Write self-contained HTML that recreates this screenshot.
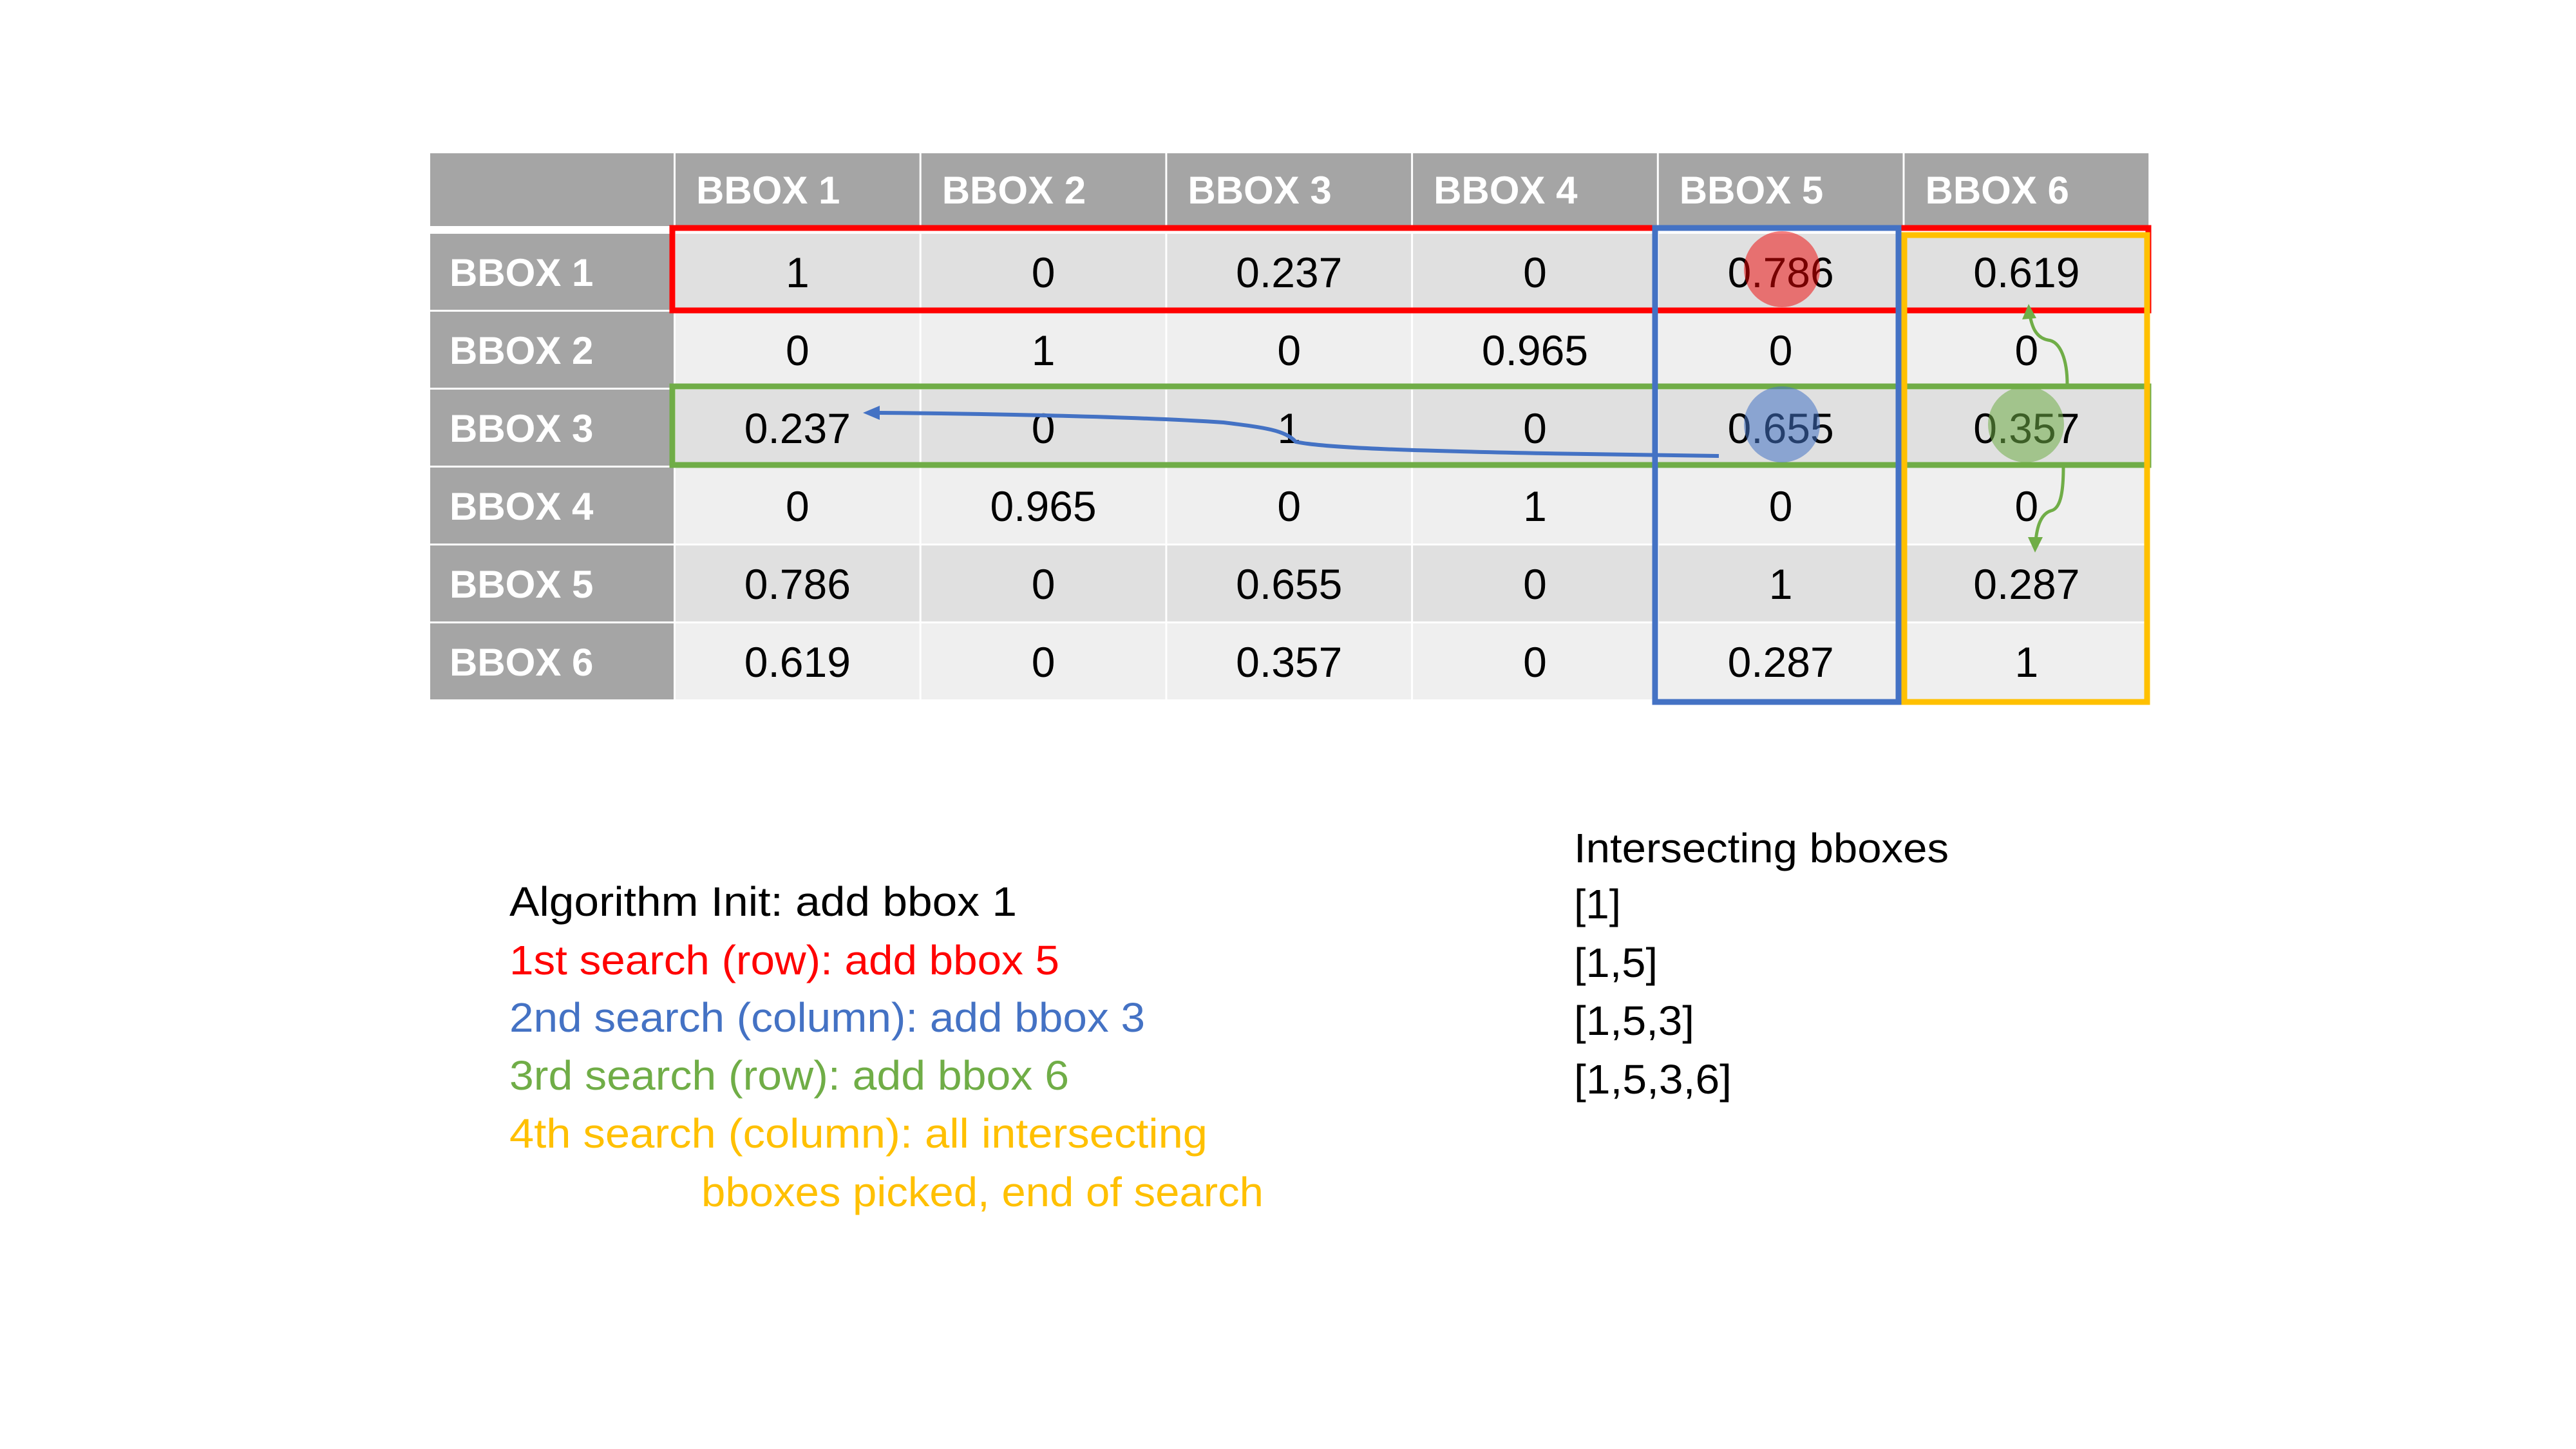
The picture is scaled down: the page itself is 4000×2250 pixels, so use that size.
<!DOCTYPE html>
<html><head><meta charset="utf-8"><style>
html,body{margin:0;padding:0;background:#fff;}
svg{display:block;}
text{font-family:"Liberation Sans",sans-serif;}
</style></head><body>
<svg id="s" width="4000" height="2250" viewBox="0 0 4000 2250">
<g id="table"></g>
<g id="overlay">
  <rect x="1044" y="354" width="2292" height="128" fill="none" stroke="#ff0000" stroke-width="9"/>
  <rect x="1044" y="600" width="2292" height="122" fill="none" stroke="#70ad47" stroke-width="9"/>
  <rect x="2570" y="354" width="378" height="736" fill="none" stroke="#4472c4" stroke-width="9"/>
  <rect x="2957" y="365" width="377" height="725" fill="none" stroke="#ffc000" stroke-width="9"/>
  <circle cx="2767" cy="418" r="59" fill="#ee0000" opacity="0.5"/>
  <circle cx="2767" cy="659" r="59" fill="#4472c4" opacity="0.55"/>
  <circle cx="3146" cy="659" r="59" fill="#70ad47" opacity="0.55"/>
  <path d="M2669,708 L2400,704 C2200,700 2060,696 2012,686 C1995,668 1965,664 1900,656 C1750,646 1500,642 1362,641" fill="none" stroke="#4472c4" stroke-width="6"/>
  <polygon points="1340,641 1366,630 1366,652" fill="#4472c4"/>
  <path d="M3210,597 C3210,560 3200,530 3180,528 C3160,524 3155,505 3152,490" fill="none" stroke="#70ad47" stroke-width="5"/>
  <polygon points="3150,472 3140,496 3162,494" fill="#70ad47"/>
  <path d="M3204,725 C3204,770 3198,790 3185,793 C3168,798 3163,820 3161,840" fill="none" stroke="#70ad47" stroke-width="5"/>
  <polygon points="3160,858 3149,834 3172,834" fill="#70ad47"/>
</g>
<g font-size="64">
  <text x="791" y="1422" fill="#000000" textLength="788" lengthAdjust="spacingAndGlyphs">Algorithm Init: add bbox 1</text>
  <text x="791" y="1513" fill="#ff0000" textLength="854" lengthAdjust="spacingAndGlyphs">1st search (row): add bbox 5</text>
  <text x="791" y="1602" fill="#4472c4" textLength="987" lengthAdjust="spacingAndGlyphs">2nd search (column): add bbox 3</text>
  <text x="791" y="1692" fill="#70ad47" textLength="869" lengthAdjust="spacingAndGlyphs">3rd search (row): add bbox 6</text>
  <text x="791" y="1782" fill="#ffc000" textLength="1084" lengthAdjust="spacingAndGlyphs">4th search (column): all intersecting</text>
  <text x="1089" y="1873" fill="#ffc000" textLength="873" lengthAdjust="spacingAndGlyphs">bboxes picked, end of search</text>
</g>
<g font-size="64" fill="#000">
  <text x="2444" y="1339" textLength="582" lengthAdjust="spacingAndGlyphs">Intersecting bboxes</text>
  <text x="2444" y="1426" textLength="73" lengthAdjust="spacingAndGlyphs">[1]</text>
  <text x="2444" y="1517" textLength="130" lengthAdjust="spacingAndGlyphs">[1,5]</text>
  <text x="2444" y="1607" textLength="187" lengthAdjust="spacingAndGlyphs">[1,5,3]</text>
  <text x="2444" y="1698" textLength="245" lengthAdjust="spacingAndGlyphs">[1,5,3,6]</text>
</g>
</svg>
<script>
const labels = ['BBOX 1','BBOX 2','BBOX 3','BBOX 4','BBOX 5','BBOX 6'];
const row1 = ['1','0','0.237','0','0.786','0.619'];
const row2 = ['0','1','0','0.965','0','0'];
const row3 = ['0.237','0','1','0','0.655','0.357'];
const row4 = ['0','0.965','0','1','0','0'];
const row5 = ['0.786','0','0.655','0','1','0.287'];
const row6 = ['0.619','0','0.357','0','0.287','1'];
const matrix = [row1,row2,row3,row4,row5,row6];

const NS='http://www.w3.org/2000/svg';
const T=document.getElementById('table');
const X0=668, C0W=378, CW=381.7, HY=238, HH=113, RY=363, RH=121;
function colX(j){return X0+C0W+3+j*CW;}
function rowY(i){return RY+i*RH;}
function mk(tag,attrs){const e=document.createElementNS(NS,tag);for(const k in attrs)e.setAttribute(k,attrs[k]);T.appendChild(e);return e;}

let e=mk('rect',{x:X0,y:HY,width:C0W,height:HH,fill:'#a5a5a5'});


labels.forEach((l,j)=>{
  const r=mk('rect',{x:colX(j),y:HY,width:CW-3,height:HH,fill:'#a5a5a5'});
  
  
  const t=mk('text',{x:colX(j)+32,y:HY+78,fill:'#fff','font-size':60,'font-weight':'bold'});
  t.textContent=l;
  
  
});
matrix.forEach((row,i)=>{
  const y=rowY(i), h=RH-3;
  const rc=mk('rect',{x:X0,y:y,width:C0W,height:h,fill:'#a5a5a5'});
  
  
  const rt=mk('text',{x:X0+30,y:y+h/2+22,fill:'#fff','font-size':60,'font-weight':'bold'});
  rt.textContent=labels[i];
  
  
  row.forEach((v,j)=>{
    const c=mk('rect',{x:colX(j),y:y,width:CW-3,height:h,fill:(i%2===0)?'#e0e0e0':'#efefef'});
    
    
    const t=mk('text',{x:colX(j)+(CW-3)/2,y:y+h/2+24,fill:'#000','font-size':66,'text-anchor':'middle'});
    t.textContent=v;
    
    
  });
});
</script>
</body></html>
